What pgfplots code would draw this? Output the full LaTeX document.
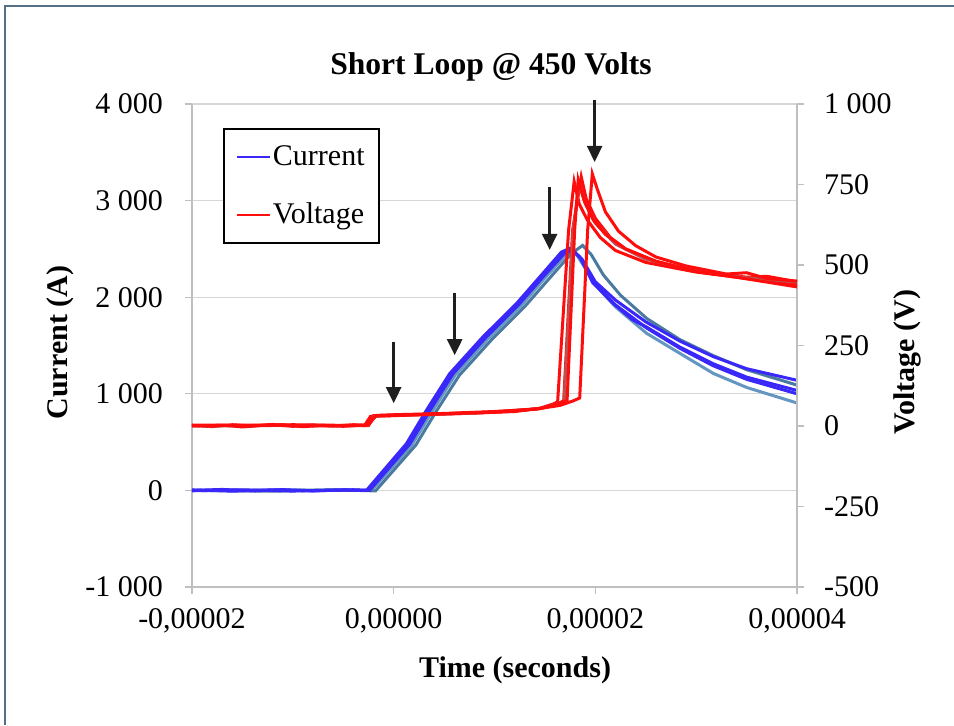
\documentclass[border=0pt]{standalone}
\usepackage{fontspec}
\setmainfont{Liberation Serif}
\usepackage{pgfplots}
\pgfplotsset{compat=1.18}
\usetikzlibrary{arrows.meta}
\definecolor{cur}{RGB}{58,40,250}
\definecolor{cursteel}{RGB}{74,122,160}
\definecolor{cursteel2}{RGB}{100,150,195}
\definecolor{volt}{RGB}{255,12,12}
\definecolor{voltdk}{RGB}{190,80,80}
\definecolor{axgray}{RGB}{191,191,191}
\definecolor{gridgray}{RGB}{214,214,214}
\definecolor{framec}{RGB}{84,112,135}
\pgfplotsset{
  common/.style={
    at={(96pt,69pt)}, anchor=south west,
    scale only axis, width=302.5pt, height=241.5pt,
    xmin=-20, xmax=40, clip=false,
    axis line style={axgray, line width=0.6pt},
    x axis line style={-}, y axis line style={-},
    tick align=outside, major tick length=3.5pt,
    tick style={axgray, line width=0.6pt},
    tick label style={font=\fontsize{15}{18}\selectfont},
    label style={font=\bfseries\fontsize{15}{18}\selectfont},
  },
}
\begin{document}
\begin{tikzpicture}[x=1pt,y=1pt]
\useasboundingbox (0,0) rectangle (477,362.5);
\fill[white] (0,0) rectangle (477,362.5);
\draw[framec, line width=1.3pt] (2.5,0) -- (2.5,359.5) -- (477,359.5);
\node[font=\bfseries\fontsize{15.8}{19}\selectfont, anchor=base] at (245.5,325.5) {Short Loop @ 450 Volts};

\begin{axis}[common,
  ymin=-1000, ymax=4000,
  axis y line*=left, axis x line*=bottom,
  xtick={-20,0,20,40},
  xticklabels={{-0,00002},{0,00000},{0,00002},{0,00004}},
  xticklabel style={yshift=-3.5pt},
  ytick={-1000,0,1000,2000,3000,4000},
  yticklabels={-1 000,0,1 000,2 000,3 000,4 000},
  yticklabel style={xshift=-7.5pt},
  ymajorgrids, grid style={gridgray, line width=0.6pt},
  xlabel={Time (seconds)},
  xlabel style={at={(axis description cs:0.534,0)}, anchor=base, yshift=-45pt},
  ylabel={Current (A)},
  ylabel style={at={(axis description cs:-0.218,0.506)}, anchor=center},
]
\addplot[cursteel2, line width=1.5pt] coordinates {(-20,0) (-10,5) (-2.2,0) (1.8,470) (3.8,815) (6.1,1195) (9.4,1575) (12.7,1920) (15.0,2200) (17.1,2440) (17.9,2480) (19.0,2300) (20.5,2070) (22,1900) (25.1,1625) (28.4,1418) (31.7,1211) (35,1066) (40,905)};
\addplot[cursteel, line width=1.5pt] coordinates {(-20,0) (-12,-8) (-6,6) (-1.8,-5) (2.2,470) (4.2,815) (6.5,1190) (9.8,1570) (13.1,1915) (15.4,2190) (17.6,2450) (18.74,2536) (19.6,2440) (20.8,2230) (22.5,2020) (25.1,1780) (28.4,1560) (31.7,1395) (35,1250) (40,1090)};
\addplot[cur, line width=1.5pt] coordinates {(-20,-4) (-15,6) (-10,-7) (-6,4) (-2.55,0) (1.4,470) (3.4,815) (5.7,1195) (9.0,1575) (12.3,1920) (14.6,2200) (16.8,2460) (17.6,2500) (18.6,2400) (19.9,2140) (22,1920) (25.1,1680) (28.4,1470) (31.7,1290) (35,1150) (40,1000)};
\addplot[cur, line width=1.5pt] coordinates {(-20,5) (-16,-8) (-12,6) (-8,-4) (-4,7) (-2.4,0) (1.6,480) (3.6,830) (5.9,1210) (9.2,1590) (12.5,1935) (14.8,2210) (16.9,2450) (17.7,2490) (18.7,2390) (20.0,2160) (22,1970) (25,1745) (28.4,1545) (31.7,1385) (35,1260) (40,1140)};
\addplot[cur, line width=1.5pt] coordinates {(-20,0) (-17,10) (-14,-5) (-11,8) (-8,-6) (-5,5) (-2.7,0) (1.26,483) (3.24,828) (5.55,1208) (8.83,1587) (12.17,1933) (14.48,2209) (16.63,2467) (17.45,2505) (18.45,2419) (19.74,2150) (21.8,1933) (23.7,1766) (25.1,1690) (28.4,1483) (31.7,1311) (35,1173) (40,1035)};
\end{axis}

\begin{axis}[common,
  ymin=-500, ymax=1000,
  axis y line*=right, axis x line=none,
  ytick={-500,-250,0,250,500,750,1000},
  yticklabels={-500,-250,0,250,500,750,1 000},
  yticklabel style={xshift=6.5pt},
  ylabel={Voltage (V)},
  ylabel style={at={(axis description cs:1.183,0.466)}, anchor=center, rotate=0},
  legend style={at={(axis description cs:0.0512,0.950)}, anchor=north west,
    draw=black, line width=1pt, fill=white,
    font=\fontsize{15}{18}\selectfont,
    inner xsep=6pt, inner ysep=7pt, row sep=15.5pt,
    nodes={inner sep=1pt}},
  /tikz/every odd column/.append style={column sep=0pt},
  legend cell align=left,
  legend image code/.code={\draw[#1] (0pt,0pt) -- (16.5pt,0pt);},
]
\addlegendimage{cur, line width=1pt}
\addlegendentry{Current}
\addlegendimage{volt, line width=1pt}
\addlegendentry{Voltage}
\addplot[volt, line width=1.5pt, forget plot] coordinates {(-20,2) (-18,-2) (-16,4) (-14,0) (-12,5) (-10,-1) (-8,3) (-6,0) (-4,4) (-2.9,1) (-2.3,30) (0,33) (4,36) (8,40) (12,45) (14.5,55) (15.8,68) (16.26,75) (17.35,609) (17.9,759) (18.4,690) (19.2,640) (20.5,585) (22,545) (25,508) (30,478) (35,458) (40,440)};
\addplot[volt, line width=1.5pt, forget plot] coordinates {(-20,0) (-17,3) (-15,-3) (-13,2) (-11,4) (-9,-2) (-7,2) (-5,-1) (-3,3) (-2.6,2) (-2.0,32) (0,34) (4,37) (8,41) (12,46) (14.8,56) (16.3,70) (16.86,78) (17.75,609) (18.6,774) (19.1,705) (20,645) (21.5,585) (23,550) (26,510) (30,482) (33,470) (35,462) (37,465) (40,448)};
\addplot[voltdk, line width=1.5pt, forget plot] coordinates {(-20,0) (-10,2) (-2.5,1) (-1.9,31) (0,33) (8,40) (14.5,54) (16.9,75) (17.8,609) (18.4,750) (19.0,690) (20,630) (22,565) (25,518) (30,482) (35,460) (40,447)};
\addplot[volt, line width=1.5pt, forget plot] coordinates {(-20,3) (-15,1) (-10,4) (-5,2) (-2.5,3) (-1.8,31) (0,32) (5,38) (10,43) (14.5,54) (16.6,72) (17.2,80) (17.95,609) (18.3,765) (18.9,700) (19.8,640) (21,595) (23,550) (26,512) (30,480) (34,462) (36,452) (40,432)};
\addplot[volt, line width=1.5pt, forget plot] coordinates {(-20,1) (-14,3) (-8,0) (-2.7,2) (-1.7,33) (0,35) (5,39) (10,45) (14,52) (16.5,64) (17.8,78) (18.45,87) (19.24,609) (19.7,783) (20.2,735) (21,665) (22.3,605) (24,560) (26,525) (29,497) (33,472) (35,476) (37,458) (40,450)};
\draw[line width=1.25pt, black!88, -{Triangle[length=8pt, width=7.5pt]}] (axis cs:0,261) -- (axis cs:0,71);
\draw[line width=1.25pt, black!88, -{Triangle[length=8pt, width=7.5pt]}] (axis cs:6.05,413) -- (axis cs:6.05,220);
\draw[line width=1.25pt, black!88, -{Triangle[length=8pt, width=7.5pt]}] (axis cs:15.47,742) -- (axis cs:15.47,547);
\draw[line width=1.25pt, black!88, -{Triangle[length=8pt, width=7.5pt]}] (axis cs:19.93,1012) -- (axis cs:19.93,820);
\end{axis}
\end{tikzpicture}
\end{document}
